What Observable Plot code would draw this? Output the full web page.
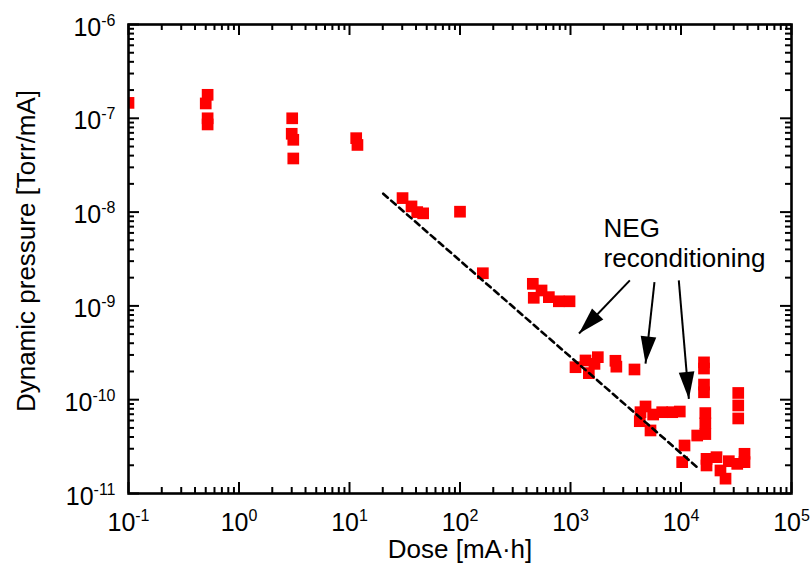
<!DOCTYPE html>
<html><head><meta charset="utf-8">
<script src="https://cdn.jsdelivr.net/npm/d3@7"></script>
<script src="https://cdn.jsdelivr.net/npm/@observablehq/plot@0.6"></script>
<style>
body{margin:0;background:#fff;}
#chart{width:812px;height:574px;}
</style></head><body><div id="chart"></div>
<script>
// ---- data ----
const doseX = [0.1, 0.52, 0.50, 0.52, 0.52, 3.03, 3.0, 3.1, 3.1, 11.5, 11.8,
  30.2, 36.4, 41, 46.4, 100, 161, 456, 547, 465, 637, 784, 980,
  1110, 1367, 1465, 1767, 1648, 2550, 2600, 3793,
  4775, 4299, 4236, 5598, 5297, 6758, 8322, 9750, 10250, 10760, 14020,
  16150, 16150, 16150, 16150, 16600, 16600, 16600,
  32960, 32960, 32960,
  17020, 17020, 20950, 22760, 25290, 27090, 32280, 37560, 37560];
const pressY = [1.46e-7, 1.78e-7, 1.44e-7, 1.0e-7, 8.6e-8, 1.0e-7, 6.84e-8, 5.9e-8, 3.73e-8, 6.14e-8, 5.2e-8,
  1.41e-8, 1.15e-8, 1.0e-8, 9.7e-9, 1.01e-8, 2.23e-9, 1.72e-9, 1.46e-9, 1.22e-9, 1.24e-9, 1.12e-9, 1.12e-9,
  2.22e-10, 2.62e-10, 1.92e-10, 2.84e-10, 2.41e-10, 2.6e-10, 2.25e-10, 2.10e-10,
  8.47e-11, 7.36e-11, 5.90e-11, 6.95e-11, 4.70e-11, 7.36e-11, 7.36e-11, 7.48e-11, 2.16e-11, 3.25e-11, 4.15e-11,
  2.5e-10, 2.15e-10, 1.45e-10, 1.2e-10, 7.2e-11, 5.6e-11, 4.3e-11,
  1.18e-10, 8.68e-11, 6.31e-11,
  2.34e-11, 1.99e-11, 2.44e-11, 1.76e-11, 1.44e-11, 2.21e-11, 2.07e-11, 2.65e-11, 2.16e-11];
const xTickExps = [-1, 0, 1, 2, 3, 4, 5];
const yTickExps = [-11, -10, -9, -8, -7, -6];
const fitX = [20.2, 14400];
const fitY = [1.57e-8, 1.85e-11];
const noteText = "NEG\nreconditioning";
const noteX = [1990];
const noteY = [9.2e-9];
const arrowFromX = [3444, 5754, 9550];
const arrowFromY = [1.87e-9, 1.79e-9, 1.87e-9];
const arrowToX = [1194, 4775, 11780];
const arrowToY = [5.08e-10, 2.43e-10, 1.02e-10];
const xLabel = "Dose [mA·h]";
const yLabel = "Dynamic pressure [Torr/mA]";

// ---- layout ----
const W = 812, H = 574, mL = 128, mR = 21, mT = 24, mB = 81;
const frameW = W - mL - mR, frameH = H - mT - mB;
const FONT = "'Liberation Sans', Arial, Helvetica, sans-serif";

const points = doseX.map((x, i) => ({x, y: pressY[i]}));
const fit = fitX.map((x, i) => ({x, y: fitY[i]}));
const xDomain = [10 ** xTickExps[0], 10 ** xTickExps[xTickExps.length - 1]];
const yDomain = [10 ** yTickExps[0], 10 ** yTickExps[yTickExps.length - 1]];
const xMajor = xTickExps.map(e => 10 ** e);
const yMajor = yTickExps.map(e => 10 ** e);
const minorOf = exps => exps.slice(0, -1).flatMap(e => d3.range(2, 10).map(m => m * 10 ** e));
const xMinor = minorOf(xTickExps);
const yMinor = minorOf(yTickExps);

// screen-direction for arrowheads (same scales as the plot)
const sx = d3.scaleLog(xDomain, [mL, W - mR]);
const sy = d3.scaleLog(yDomain, [H - mB, mT]);
const arrows = arrowFromX.map((x, i) => {
  const dx = sx(arrowToX[i]) - sx(x), dy = sy(arrowToY[i]) - sy(arrowFromY[i]);
  return {x1: x, y1: arrowFromY[i], x2: arrowToX[i], y2: arrowToY[i],
          angle: Math.atan2(dx, -dy) * 180 / Math.PI};
});
const arrowHead = {
  draw(ctx, size) {
    const L = Math.sqrt(size / Math.PI);
    const w = L * 0.29;
    ctx.moveTo(0, 0); ctx.lineTo(-w, L); ctx.lineTo(w, L); ctx.closePath();
  }
};
const supFmt = d => `10^${Math.round(Math.log10(d))}`;

const chart = Plot.plot({
  width: W, height: H,
  marginLeft: mL, marginRight: mR, marginTop: mT, marginBottom: mB,
  style: {fontFamily: FONT, fontSize: "25px", background: "#fff", color: "#000"},
  x: {type: "log", domain: xDomain},
  y: {type: "log", domain: yDomain},
  marks: [
    Plot.dot(points, {x: "x", y: "y", symbol: "square", r: 6.6, fill: "#ff0000", stroke: "none", clip: true}),
    Plot.line(fit, {x: "x", y: "y", stroke: "#000", strokeWidth: 2.6, strokeDasharray: "6,4.5"}),
    Plot.link(arrows, {x1: "x1", y1: "y1", x2: "x2", y2: "y2", stroke: "#000", strokeWidth: 2}),
    Plot.dot(arrows, {x: "x2", y: "y2", symbol: arrowHead, r: 27, rotate: "angle", fill: "#000", stroke: "none"}),
    Plot.text([noteText], {x: noteX, y: noteY, textAnchor: "start", lineAnchor: "top", lineHeight: 1.16, fontSize: 26, fill: "#000"}),
    // tick marks (inward, mirrored on all sides)
    Plot.ruleX(xMajor, {x: d => d, insetTop: frameH - 11, strokeWidth: 2, stroke: "#000"}),
    Plot.ruleX(xMajor, {x: d => d, insetBottom: frameH - 11, strokeWidth: 2, stroke: "#000"}),
    Plot.ruleX(xMinor, {x: d => d, insetTop: frameH - 6, strokeWidth: 2, stroke: "#000"}),
    Plot.ruleX(xMinor, {x: d => d, insetBottom: frameH - 6, strokeWidth: 2, stroke: "#000"}),
    Plot.ruleY(yMajor, {y: d => d, insetRight: frameW - 11, strokeWidth: 2, stroke: "#000"}),
    Plot.ruleY(yMajor, {y: d => d, insetLeft: frameW - 11, strokeWidth: 2, stroke: "#000"}),
    Plot.ruleY(yMinor, {y: d => d, insetRight: frameW - 6, strokeWidth: 2, stroke: "#000"}),
    Plot.ruleY(yMinor, {y: d => d, insetLeft: frameW - 6, strokeWidth: 2, stroke: "#000"}),
    Plot.frame({stroke: "#000", strokeWidth: 2.6}),
    Plot.axisX(xMajor, {anchor: "bottom", tickSize: 0, tickPadding: 20, tickFormat: supFmt, fontSize: 25, label: null}),
    Plot.axisY(yMajor, {anchor: "left", tickSize: 0, tickPadding: 13, tickFormat: supFmt, fontSize: 25, label: null, dy: 3}),
    Plot.text([xLabel], {frameAnchor: "bottom", textAnchor: "middle", lineAnchor: "bottom", dy: 64, fontSize: 26, fill: "#000"}),
    Plot.text([yLabel], {frameAnchor: "left", textAnchor: "middle", lineAnchor: "middle", rotate: -90, dx: -102, dy: -8, fontSize: 26, fill: "#000"})
  ]
});

// render exponents as superscripts
chart.querySelectorAll('[aria-label="x-axis tick label"] text, [aria-label="y-axis tick label"] text').forEach(t => {
  const s = t.textContent;
  if (!s.includes("^")) return;
  const [b, e] = s.split("^");
  t.textContent = "";
  const ns = "http://www.w3.org/2000/svg";
  const t1 = document.createElementNS(ns, "tspan"); t1.textContent = b;
  const t2 = document.createElementNS(ns, "tspan"); t2.textContent = e;
  t2.setAttribute("dy", "-10"); t2.setAttribute("font-size", "16");
  t.append(t1, t2);
});
document.getElementById("chart").append(chart);
</script></body></html>
